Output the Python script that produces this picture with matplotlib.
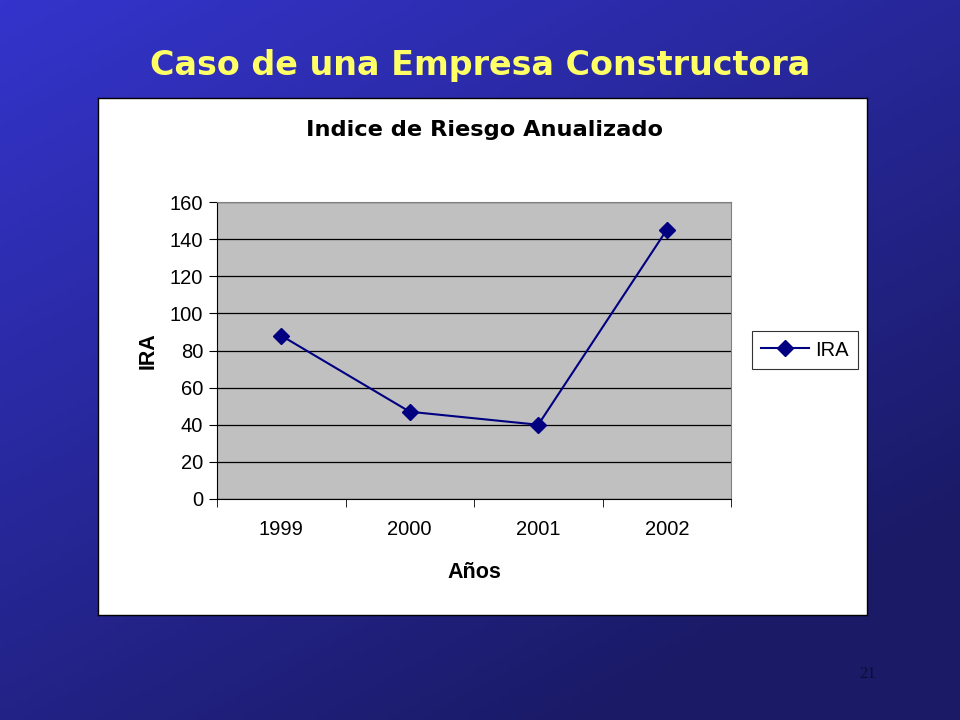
import numpy as np
import matplotlib
matplotlib.use("Agg")
import matplotlib.pyplot as plt

years = ["1999", "2000", "2001", "2002"]
ira = [88, 47, 40, 145]
yticks = [0, 20, 40, 60, 80, 100, 120, 140, 160]

W, H = 960, 720
fig = plt.figure(figsize=(9.6, 7.2), dpi=100)

# gradient background
bg = fig.add_axes([0, 0, 1, 1])
bg.set_zorder(-2)
gx, gy = np.meshgrid(np.linspace(0, 1, 200), np.linspace(0, 1, 150))
t = np.clip(0.55 * gx + 0.75 * gy, 0, 1.1) / 1.1
c0 = np.array([0x34, 0x34, 0xcc]) / 255
c1 = np.array([0x1a, 0x1a, 0x66]) / 255
img = c0[None, None, :] * (1 - t[..., None]) + c1[None, None, :] * t[..., None]
bg.imshow(img, extent=[0, 1, 0, 1], aspect="auto", origin="upper")
bg.set_xlim(0, 1); bg.set_ylim(0, 1)
bg.axis("off")

def fx(px): return px / W
def fy(py): return 1 - py / H

# white panel as axes
pan = fig.add_axes([fx(98), fy(615), fx(867) - fx(98), fy(98) - fy(615)])
pan.set_zorder(-1)
pan.set_facecolor("white")
pan.set_xticks([]); pan.set_yticks([])
for s in pan.spines.values():
    s.set_color("black"); s.set_linewidth(1)

fig.text(0.5, fy(66), "Caso de una Empresa Constructora", ha="center", va="center",
         color="#ffff66", fontsize=24, fontweight="bold", family="DejaVu Sans")
fig.text(fx(868), fy(674), "21", ha="center", va="center", color="#0d0d33",
         fontsize=12, family="Liberation Serif")

fig.text(fx(484), fy(130), "Indice de Riesgo Anualizado", ha="center", va="center",
         fontsize=16.2, fontweight="bold", family="DejaVu Sans")

ax = fig.add_axes([fx(217), fy(499), fx(731) - fx(217), fy(202) - fy(499)])
ax.set_facecolor("#c0c0c0")
x = np.arange(len(years))
ax.plot(x, ira, color="#000080", linewidth=1.5, marker="D", markersize=8,
        markerfacecolor="#000080", markeredgecolor="#000080", label="IRA", zorder=3)
ax.set_xlim(-0.5, len(years) - 0.5)
ax.set_ylim(0, 160)
ax.set_yticks(yticks)
ax.set_yticklabels([str(v) for v in yticks], fontsize=14.5, family="Liberation Sans")
ax.yaxis.grid(True, color="black", linewidth=0.9)
ax.set_axisbelow(True)
ax.set_xticks(x)
ax.set_xticklabels(years, fontsize=14.5, family="Liberation Sans")
ax.tick_params(axis="x", which="major", length=0, pad=15)
ax.set_xticks(np.arange(len(years) + 1) - 0.5, minor=True)
ax.tick_params(axis="x", which="minor", length=6, color="black")
ax.tick_params(axis="y", length=6, pad=4)
for s in ["top", "right"]:
    ax.spines[s].set_color("#808080")
for s in ["left", "bottom"]:
    ax.spines[s].set_color("black")
ax.set_xlabel("Años", fontsize=15.5, fontweight="bold", family="Liberation Sans", labelpad=17)
ax.set_ylabel("IRA", fontsize=15.5, fontweight="bold", family="Liberation Sans", labelpad=8)

leg = ax.legend(loc="center left", frameon=True, fancybox=False,
                prop={"family": "Liberation Sans", "size": 14.5},
                handlelength=2.4, borderpad=0.45, handletextpad=0.3, borderaxespad=0)
leg.get_frame().set_edgecolor("black")
leg.get_frame().set_linewidth(0.8)
leg.set_bbox_to_anchor((fx(752), fy(350)), transform=fig.transFigure)

fig.savefig("out.png", dpi=100)
